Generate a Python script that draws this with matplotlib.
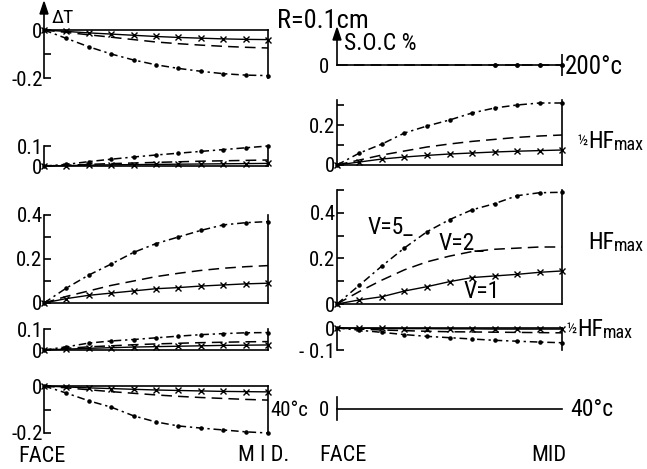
import matplotlib
matplotlib.use("Agg")
import matplotlib.pyplot as plt
from matplotlib import font_manager

# pick a narrow face if one is installed, the scan uses a condensed lettering
names = sorted({f.name for f in font_manager.fontManager.ttflist})
FONT = 'Liberation Sans'
for cand in ['Liberation Sans Narrow', 'DejaVu Sans Condensed', 'Roboto Condensed',
             'Open Sans Condensed', 'Noto Sans Condensed']:
    if cand in names:
        FONT = cand
        break
else:
    for n in names:
        if 'Narrow' in n or 'Condensed' in n:
            FONT = n
            break
plt.rcParams['font.family'] = [FONT, 'DejaVu Sans']
plt.rcParams['font.stretch'] = 'condensed'

W, H = 647, 469

# position from FACE (0) to MID (1)
pos = [0.0, 0.1, 0.2, 0.3, 0.4, 0.5, 0.6, 0.7, 0.8, 0.9, 1.0]

# left column: delta T
dT_200_v5 = [0, -0.035, -0.07, -0.1, -0.125, -0.145, -0.16, -0.172, -0.182, -0.188, -0.19]
dT_200_v2 = [0, -0.01, -0.02, -0.03, -0.04, -0.05, -0.057, -0.063, -0.068, -0.072, -0.075]
dT_200_v1 = [0, -0.006, -0.012, -0.017, -0.022, -0.027, -0.031, -0.034, -0.037, -0.039, -0.04]

dT_hhf_v5 = [0, 0.008, 0.022, 0.034, 0.045, 0.055, 0.064, 0.073, 0.082, 0.091, 0.1]
dT_hhf_v2 = [0, 0.004, 0.008, 0.012, 0.015, 0.018, 0.021, 0.024, 0.026, 0.028, 0.03]
dT_hhf_v1 = [0, 0.002, 0.004, 0.006, 0.007, 0.008, 0.009, 0.010, 0.011, 0.012, 0.013]

dT_hf_v5 = [0, 0.068, 0.127, 0.177, 0.23, 0.27, 0.30, 0.33, 0.355, 0.365, 0.37]
dT_hf_v2 = [0, 0.03, 0.055, 0.08, 0.10, 0.12, 0.135, 0.148, 0.158, 0.165, 0.17]
dT_hf_v1 = [0, 0.02, 0.035, 0.045, 0.055, 0.065, 0.07, 0.077, 0.082, 0.087, 0.09]

dT_hhf2_v5 = [0, 0.015, 0.033, 0.043, 0.05, 0.058, 0.066, 0.073, 0.078, 0.082, 0.083]
dT_hhf2_v2 = [0, 0.008, 0.015, 0.02, 0.025, 0.029, 0.032, 0.035, 0.037, 0.039, 0.04]
dT_hhf2_v1 = [0, 0.004, 0.008, 0.011, 0.014, 0.016, 0.018, 0.02, 0.022, 0.023, 0.024]

dT_40_v5 = [0, -0.03, -0.063, -0.09, -0.127, -0.153, -0.17, -0.179, -0.187, -0.195, -0.2]
dT_40_v2 = [0, -0.008, -0.016, -0.024, -0.031, -0.038, -0.044, -0.049, -0.053, -0.057, -0.06]
dT_40_v1 = [0, -0.004, -0.008, -0.011, -0.014, -0.017, -0.019, -0.021, -0.023, -0.024, -0.025]

# right column: S.O.C %
soc_200_v5 = [0, 0, 0, 0, 0, 0, 0, 0, 0, 0, 0]
soc_200_v2 = [0, 0, 0, 0, 0, 0, 0, 0, 0, 0, 0]

soc_hhf_v5 = [0, 0.06, 0.105, 0.16, 0.195, 0.225, 0.26, 0.285, 0.30, 0.31, 0.31]
soc_hhf_v2 = [0, 0.025, 0.05, 0.07, 0.09, 0.105, 0.118, 0.128, 0.138, 0.145, 0.15]
soc_hhf_v1 = [0, 0.015, 0.03, 0.04, 0.048, 0.055, 0.06, 0.065, 0.069, 0.072, 0.075]

soc_hf_v5 = [0, 0.083, 0.167, 0.246, 0.317, 0.37, 0.413, 0.44, 0.475, 0.488, 0.49]
soc_hf_v2 = [0, 0.055, 0.105, 0.15, 0.185, 0.21, 0.23, 0.24, 0.245, 0.25, 0.25]
soc_hf_v1 = [0, 0.018, 0.032, 0.057, 0.076, 0.098, 0.116, 0.123, 0.13, 0.139, 0.145]

soc_hhf2_v5 = [0, -0.01, -0.02, -0.03, -0.038, -0.044, -0.05, -0.056, -0.06, -0.064, -0.067]
soc_hhf2_v2 = [0, -0.005, -0.009, -0.012, -0.015, -0.017, -0.018, -0.019, -0.02, -0.021, -0.022]
soc_hhf2_v1 = [0, -0.001, -0.002, -0.003, -0.003, -0.004, -0.004, -0.005, -0.005, -0.005, -0.005]

soc_40 = [0, 0, 0, 0, 0, 0, 0, 0, 0, 0, 0]

NARROW = FONT != 'Liberation Sans'
TFS = 15 if NARROW else 12   # tick labels
LFS = 17 if NARROW else 14   # other text


def fx(x):
    return x / W


def fy(y):
    return 1 - y / H


def panel(x0, x1, ytop, ybot, ylim, ticks, labels, spines):
    ax = fig.add_axes([fx(x0), fy(ybot), (x1 - x0) / W, (ybot - ytop) / H])
    ax.set_xlim(0, 1)
    ax.set_ylim(*ylim)
    for s in ['left', 'right', 'top', 'bottom']:
        ax.spines[s].set_visible(s in spines)
        ax.spines[s].set_linewidth(1.2)
    ax.set_xticks([])
    ax.set_yticks(ticks)
    ax.set_yticklabels(labels, fontsize=TFS)
    ax.tick_params(axis='y', direction='in', length=5, width=1.2, pad=1)
    ax.patch.set_alpha(0)
    return ax


def curves(ax, v5, v2, v1):
    ax.plot(pos, v5, color='black', lw=1.1, dashes=(5, 2.5, 1.5, 2.5),
            marker='.', ms=4.5, clip_on=False)
    ax.plot(pos, v2, color='black', lw=1.1, dashes=(7, 4), clip_on=False)
    ax.plot(pos, v1, color='black', lw=1.0, marker='x', ms=4.5, mew=1.0, clip_on=False)


def hfmax(x, y, half):
    # "1/2 HFmax" written as in the scan: small half, HF, lowered "max"
    if half:
        fig.text(fx(x), fy(y), '½', fontsize=LFS - 6, ha='left', va='center')
        x += 11
    t = fig.text(fx(x), fy(y), 'HF', fontsize=LFS, ha='left', va='center')
    w = t.get_window_extent(renderer=fig.canvas.get_renderer()).width
    fig.text(fx(x + w), fy(y + 4), 'max', fontsize=LFS - 4, ha='left', va='center')


fig = plt.figure(figsize=(W / 100, H / 100), dpi=100)

LX0, LX1 = 44, 268
RX0, RX1 = 337, 562

# left column
a = panel(LX0, LX1, 30, 78, (-0.2, 0), [0, -0.1, -0.2], ['0', '', '-0.2'], ['left', 'top', 'right'])
curves(a, dT_200_v5, dT_200_v2, dT_200_v1)
a = panel(LX0, LX1, 146, 166, (0, 0.1), [0, 0.1], ['0', '0.1'], ['left', 'bottom', 'right'])
curves(a, dT_hhf_v5, dT_hhf_v2, dT_hhf_v1)
a = panel(LX0, LX1, 215, 303, (0, 0.4), [0, 0.1, 0.2, 0.3, 0.4], ['0', '', '0.2', '', '0.4'],
          ['left', 'bottom', 'right'])
curves(a, dT_hf_v5, dT_hf_v2, dT_hf_v1)
a = panel(LX0, LX1, 329, 350, (0, 0.1), [0, 0.1], ['0', '0.1'], ['left', 'bottom', 'right'])
curves(a, dT_hhf2_v5, dT_hhf2_v2, dT_hhf2_v1)
a = panel(LX0, LX1, 386, 433, (-0.2, 0), [0, -0.1, -0.2], ['0', '', '-0.2'], ['left', 'top', 'right'])
curves(a, dT_40_v5, dT_40_v2, dT_40_v1)

# right column
a = panel(RX0, RX1, 40, 65, (0, 1), [0], ['0'], ['bottom'])
a.plot(pos, soc_200_v2, color='black', lw=1.1, dashes=(7, 4), clip_on=False)
a.plot(pos[7:], soc_200_v5[7:], color='black', lw=0, marker='.', ms=5, clip_on=False)
a.plot([1], [0], color='black', marker='|', ms=16, mew=1.2, clip_on=False)
a.tick_params(axis='y', length=0, pad=6)
a = panel(RX0, RX1, 100, 165, (0, 0.325), [0, 0.1, 0.2, 0.3], ['0', '', '0.2', ''],
          ['left', 'bottom', 'right'])
curves(a, soc_hhf_v5, soc_hhf_v2, soc_hhf_v1)
a = panel(RX0, RX1, 190, 304, (0, 0.5), [0, 0.1, 0.2, 0.3, 0.4, 0.5], ['0', '', '0.2', '', '0.4', ''],
          ['left', 'bottom', 'right'])
curves(a, soc_hf_v5, soc_hf_v2, soc_hf_v1)
a.text(0.135, 0.335, 'V=5_', fontsize=LFS, ha='left', va='center')
a.text(0.45, 0.265, 'V=2_', fontsize=LFS, ha='left', va='center')
a.text(0.56, 0.055, 'V=1', fontsize=LFS, ha='left', va='center')
a = panel(RX0, RX1, 328, 350, (-0.1, 0), [0, -0.1], ['0', '- 0.1'], ['left', 'top', 'right'])
curves(a, soc_hhf2_v5, soc_hhf2_v2, soc_hhf2_v1)
a = panel(RX0, RX1, 397, 420, (-1, 1), [0], ['0'], ['left'])
a.plot(pos, soc_40, color='black', lw=1.2, clip_on=False)
a.tick_params(axis='y', length=0, pad=6)

# y-axis arrows
fig.add_artist(plt.Line2D([fx(LX0), fx(LX0)], [fy(30), fy(10)], color='black', lw=1.2))
fig.patches.append(plt.Polygon([[fx(LX0 - 4), fy(14)], [fx(LX0 + 4), fy(14)], [fx(LX0), fy(2)]],
                               closed=True, color='black', transform=fig.transFigure))
fig.add_artist(plt.Line2D([fx(RX0), fx(RX0)], [fy(65), fy(38)], color='black', lw=1.2))
fig.patches.append(plt.Polygon([[fx(RX0 - 4), fy(40)], [fx(RX0 + 4), fy(40)], [fx(RX0), fy(28)]],
                               closed=True, color='black', transform=fig.transFigure))

# labels
fig.text(fx(52), fy(18), 'ΔT', fontsize=LFS - 3, ha='left', va='center')
fig.text(fx(344), fy(44), 'S.O.C %', fontsize=LFS, ha='left', va='center')
fig.text(fx(277), fy(21), 'R=0.1cm', fontsize=LFS + 2, ha='left', va='center')
fig.text(fx(565), fy(67), '200°c', fontsize=LFS + 1, ha='left', va='center')
hfmax(577, 141, True)
hfmax(588, 242, False)
hfmax(566, 329, True)
fig.text(fx(570), fy(409), '40°c', fontsize=LFS, ha='left', va='center')
fig.text(fx(270), fy(410), '40°c', fontsize=LFS - 2, ha='left', va='center')
fig.text(fx(42), fy(456), 'FACE', fontsize=LFS - 1, ha='center', va='center')
fig.text(fx(264), fy(455), 'M I D.', fontsize=LFS - 1, ha='center', va='center')
fig.text(fx(343), fy(455), 'FACE', fontsize=LFS - 1, ha='center', va='center')
fig.text(fx(549), fy(455), 'MID', fontsize=LFS - 1, ha='center', va='center')

fig.savefig('out.png', dpi=100)
